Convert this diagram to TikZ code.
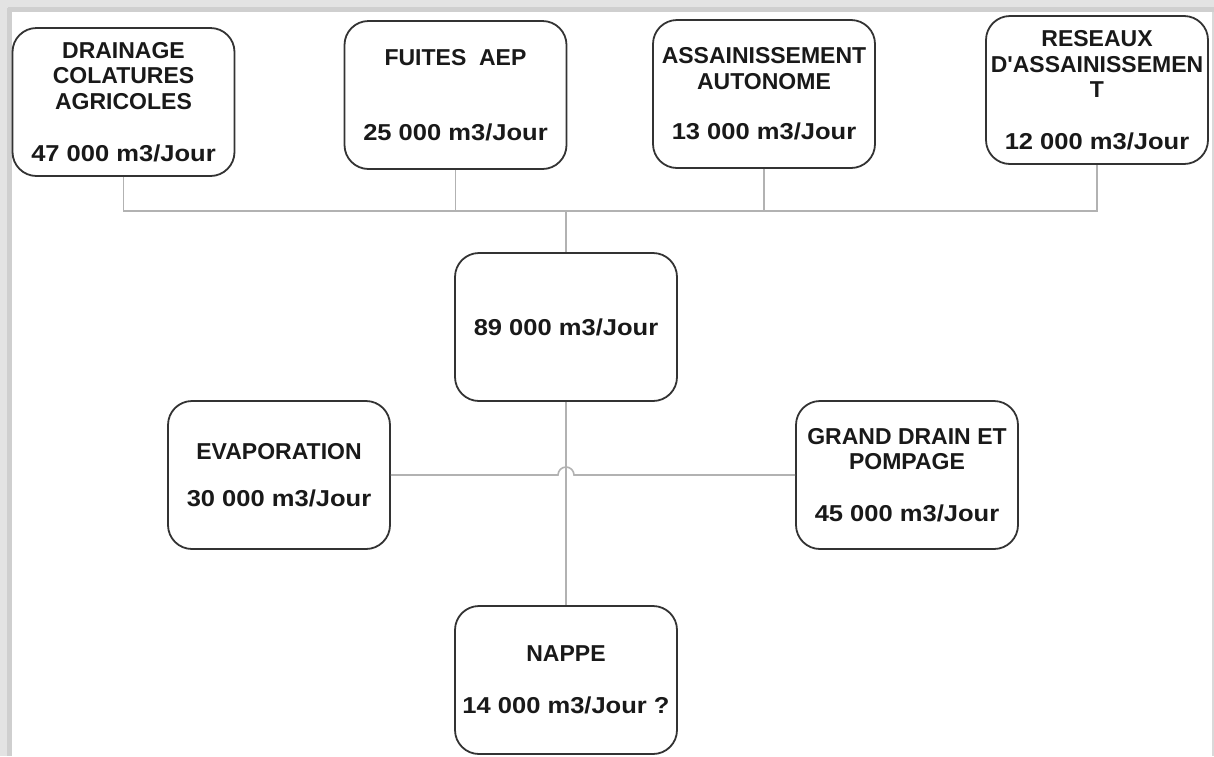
\documentclass[tikz,border=0pt]{standalone}
\usepackage{fontspec}
\setmainfont{Liberation Sans}
\newcommand\debit[1]{{\addfontfeature{FakeStretch=1.11}#1}}
\begin{document}
\begin{tikzpicture}[x=1pt,y=-1pt,
		bilan/.style={draw=black!80,line width=1.8pt,rounded corners=24pt,minimum width=222pt,minimum height=148pt,inner sep=0pt,align=center,text=black!90,font=\bfseries\fontsize{23}{25.5}\selectfont},
		liaison/.style={draw=gray!60,line width=1.6pt}]
	\useasboundingbox (0,0) rectangle (1214,756);
	\fill[gray!22] (0,0) rectangle (1214,12);
	\fill[gray!22] (0,0) rectangle (12,756);
	\fill[gray!38] (8,7) rectangle (1214,12);
	\fill[gray!38] (7,8) rectangle (12,756);
	\draw[gray!30,line width=1.5pt] (1213,12) -- (1213,756);
	\node[bilan] (drain) at (123.5,102) {DRAINAGE\\COLATURES\\AGRICOLES\\[27pt]\debit{47 000 m3/Jour}};
	\node[bilan] (fuites) at (455.5,95) {FUITES\ \ AEP\\[49pt]\debit{25 000 m3/Jour}};
	\node[bilan] (assain) at (764,94) {ASSAINISSEMENT\\AUTONOME\\[25pt]\debit{13 000 m3/Jour}};
	\node[bilan] (reseau) at (1097,90) {RESEAUX\\D\textquotesingle ASSAINISSEMEN\\T\\[26pt]\debit{12 000 m3/Jour}};
	\node[bilan] (centre) at (566,327) {\debit{89 000 m3/Jour}};
	\node[bilan] (evap) at (279,475) {EVAPORATION\\[22pt]\debit{30 000 m3/Jour}};
	\node[bilan] (grand) at (907,475) {GRAND DRAIN ET\\POMPAGE\\[26pt]\debit{45 000 m3/Jour}};
	\node[bilan] (nappe) at (566,680) {NAPPE\\[27pt]\debit{14 000 m3/Jour ?}};
	\coordinate (collecteur) at (566,211);
	\coordinate (saut) at (566,475);
	\draw[liaison] (drain.south) |- (collecteur) -| (reseau.south);
	\draw[liaison] (fuites.south) -- (fuites.south |- collecteur);
	\draw[liaison] (assain.south) -- (assain.south |- collecteur);
	\draw[liaison] (collecteur) -- (centre.north);
	\draw[liaison] (centre.south) -- (nappe.north);
	\draw[liaison] (evap.east) -- ([xshift=-8pt]saut) arc (180:0:8pt) -- (grand.west);
\end{tikzpicture}
\end{document}
